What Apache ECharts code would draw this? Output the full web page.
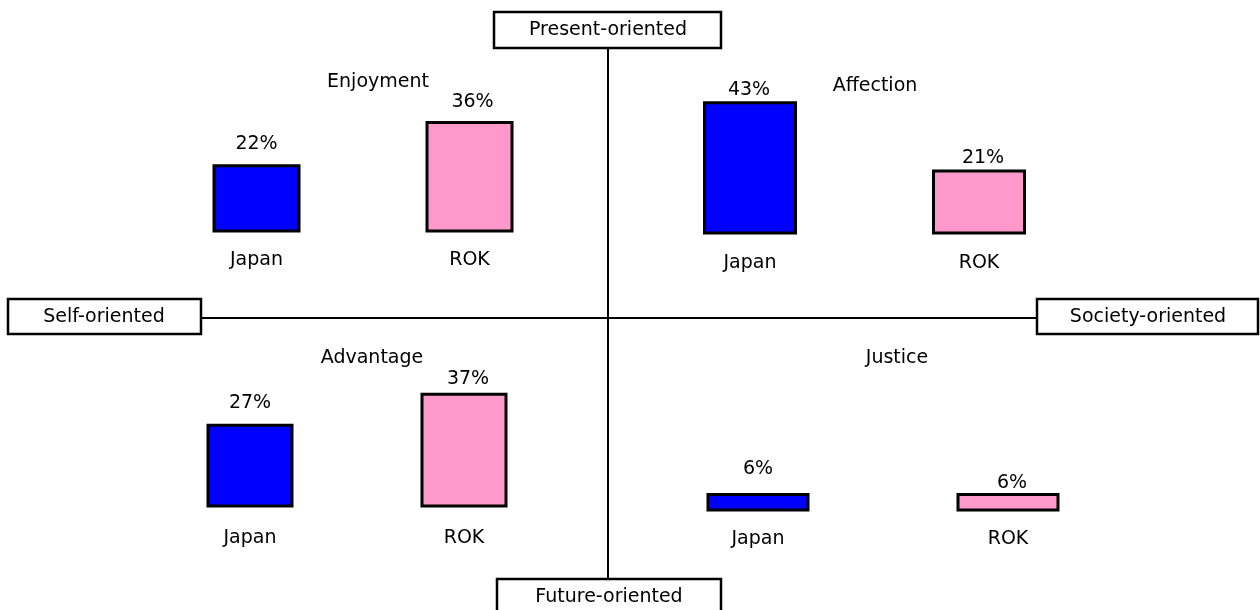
<!DOCTYPE html>
<html>
<head>
<meta charset="utf-8">
<title>Values by orientation: Japan and ROK</title>
<script src="https://cdn.jsdelivr.net/npm/echarts@6/dist/echarts.min.js"></script>
<style>
  html, body { margin: 0; padding: 0; background: #fff; }
  #chart { width: 1260px; height: 610px; }
</style>
</head>
<body>
<div id="chart"></div>
<script>
// Values, one entry per quadrant (top-left, top-right, bottom-left, bottom-right)
const quadrantNames = ['Enjoyment', 'Affection', 'Advantage', 'Justice'];
const countries = ['Japan', 'ROK'];
const japanValues = [22, 43, 27, 6];
const rokValues = [36, 21, 37, 6];
// Labels at the four ends of the cross
const axisEndLabels = ['Present-oriented', 'Future-oriented', 'Self-oriented', 'Society-oriented'];

const FONT = 'DejaVu Sans';
const FS = 19;
const countryColors = ['#0000ff', '#ff99cc'];
const BORDER = 3;

// Placement of each quadrant's small bar panel
const panels = [
  { left: 150,   width: 426, bottom: 232.5, barWidth: 88,  labelMargin: 18, valueDist: [11, 9], valueDx: [0, 3], title: [378, 82] },
  { left: 635.5, width: 458, bottom: 234.5, barWidth: 94,  labelMargin: 19, valueDist: [2, 2],   valueDx: [-1, 4], title: [875, 86] },
  { left: 143,   width: 428, bottom: 507.5, barWidth: 87,  labelMargin: 21, valueDist: [11, 4], valueDx: [0, 4], title: [372, 358] },
  { left: 633,   width: 500, bottom: 511.5, barWidth: 103, labelMargin: 18, valueDist: [14, 0], valueDx: [0, 4], title: [897, 358] }
];
const VMAX = 50;
const PX_PER_UNIT = 3.1;

const grids = [], xAxes = [], yAxes = [], series = [];
panels.forEach((p, i) => {
  const h = VMAX * PX_PER_UNIT;
  grids.push({ left: p.left, width: p.width, top: p.bottom - h, height: h, containLabel: false });
  xAxes.push({
    type: 'category', gridIndex: i, data: countries,
    axisLine: { show: false }, axisTick: { show: false }, splitLine: { show: false },
    axisLabel: { margin: p.labelMargin, color: '#000', fontFamily: FONT, fontSize: FS }
  });
  yAxes.push({ type: 'value', gridIndex: i, min: 0, max: VMAX, show: false, splitLine: { show: false } });
  const vals = [japanValues[i], rokValues[i]];
  series.push({
    type: 'bar', xAxisIndex: i, yAxisIndex: i,
    barWidth: p.barWidth,
    silent: true,
    data: vals.map((v, k) => ({
      value: v,
      itemStyle: { color: countryColors[k], borderColor: '#000', borderWidth: BORDER },
      label: { show: true, position: 'top', distance: p.valueDist[k], offset: [p.valueDx[k], 0] }
    })),
    label: { show: true, formatter: '{c}%', color: '#000', fontFamily: FONT, fontSize: FS }
  });
});

const lineStyle = { stroke: '#000', lineWidth: 2 };
const boxStyle = { fill: '#fff', stroke: '#000', lineWidth: 2.5 };
const textStyle = (txt, x, y) => ({
  type: 'text', x: x, y: y, silent: true,
  style: { text: txt, fill: '#000', font: FS + 'px "' + FONT + '"', align: 'center', verticalAlign: 'middle' }
});

const graphic = [
  { type: 'line', silent: true, shape: { x1: 608, y1: 48, x2: 608, y2: 579 }, style: lineStyle },
  { type: 'line', silent: true, shape: { x1: 201, y1: 318, x2: 1037, y2: 318 }, style: lineStyle },
  { type: 'rect', silent: true, shape: { x: 494, y: 12, width: 227, height: 36 }, style: boxStyle },
  { type: 'rect', silent: true, shape: { x: 497, y: 579, width: 224, height: 40 }, style: boxStyle },
  { type: 'rect', silent: true, shape: { x: 8, y: 299, width: 193, height: 35 }, style: boxStyle },
  { type: 'rect', silent: true, shape: { x: 1037, y: 299, width: 221, height: 35 }, style: boxStyle },
  textStyle(axisEndLabels[0], 608, 30),
  textStyle(axisEndLabels[1], 609, 597),
  textStyle(axisEndLabels[2], 104, 317),
  textStyle(axisEndLabels[3], 1148, 317)
];
panels.forEach((p, i) => graphic.push(textStyle(quadrantNames[i], p.title[0], p.title[1])));

const chart = echarts.init(document.getElementById('chart'), null, { renderer: 'canvas' });
chart.setOption({
  animation: false,
  backgroundColor: '#fff',
  grid: grids,
  xAxis: xAxes,
  yAxis: yAxes,
  series: series,
  graphic: graphic
});
</script>
</body>
</html>
